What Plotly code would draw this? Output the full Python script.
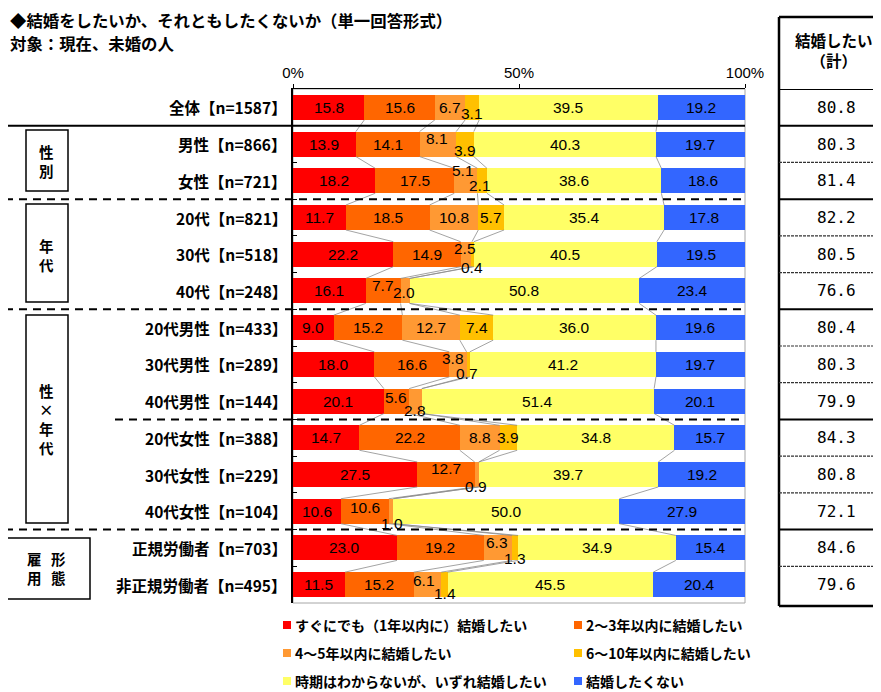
import plotly.graph_objects as go

# ---------------- data ----------------
categories = ["全体【n=1587】", "男性【n=866】", "女性【n=721】", "20代【n=821】", "30代【n=518】",
              "40代【n=248】", "20代男性【n=433】", "30代男性【n=289】", "40代男性【n=144】",
              "20代女性【n=388】", "30代女性【n=229】", "40代女性【n=104】",
              "正規労働者【n=703】", "非正規労働者【n=495】"]
series_names = ["すぐにでも（1年以内に）結婚したい", "2～3年以内に結婚したい", "4～5年以内に結婚したい",
                "6～10年以内に結婚したい", "時期はわからないが、いずれ結婚したい", "結婚したくない"]
s_1yr = [15.8, 13.9, 18.2, 11.7, 22.2, 16.1, 9.0, 18.0, 20.1, 14.7, 27.5, 10.6, 23.0, 11.5]
s_2_3yr = [15.6, 14.1, 17.5, 18.5, 14.9, 7.7, 15.2, 16.6, 5.6, 22.2, 12.7, 10.6, 19.2, 15.2]
s_4_5yr = [6.7, 8.1, 5.1, 10.8, 2.5, 2.0, 12.7, 3.8, 2.8, 8.8, 0.9, 1.0, 6.3, 6.1]
s_6_10yr = [3.1, 3.9, 2.1, 5.7, 0.4, 0.0, 7.4, 0.7, 0.0, 3.9, 0.0, 0.0, 1.3, 1.4]
s_someday = [39.5, 40.3, 38.6, 35.4, 40.5, 50.8, 36.0, 41.2, 51.4, 34.8, 39.7, 50.0, 34.9, 45.5]
s_no = [19.2, 19.7, 18.6, 17.8, 19.5, 23.4, 19.6, 19.7, 20.1, 15.7, 19.2, 27.9, 15.4, 20.4]
want_total = [80.8, 80.3, 81.4, 82.2, 80.5, 76.6, 80.4, 80.3, 79.9, 84.3, 80.8, 72.1, 84.6, 79.6]
tick_vals = [0, 50, 100]
tick_text = ["0%", "50%", "100%"]

series = [s_1yr, s_2_3yr, s_4_5yr, s_6_10yr, s_someday, s_no]

# ---------------- styles ----------------
colors = ["#FF0000", "#FF6600", "#FF9933", "#FFC000", "#FFFF66", "#3366FF"]
JP = "Noto Sans CJK JP"
NUM = "Liberation Sans"
W, H = 881, 692
OFF = 8  # page body margin
X0, X1, Y0, Y1 = 293 - OFF, 745 - OFF, 89 - OFF, 603 - OFF
BW = 0.68

# manual label nudges (pixels) for thin segments: (row, series) -> (dx, dy)
label_nudge = {
    (0, 3): (0, -6),
    (1, 2): (-1, 6), (1, 3): (0, -6),
    (2, 2): (-3, 10), (2, 3): (-2, -5),
    (4, 2): (-1, 6), (4, 3): (-1, -13),
    (5, 1): (0, 5), (5, 2): (-1, -2),
    (7, 2): (-5, 6), (7, 3): (-1, -9),
    (8, 1): (-1, 4), (8, 2): (0, -9),
    (10, 1): (0, 6), (10, 2): (-1, -12),
    (11, 1): (0, 4), (11, 2): (1, -12),
    (12, 2): (-1, 5), (12, 3): (0, -11),
    (13, 2): (-3, 4), (13, 3): (1, -9),
}


def px(x):
    """reference-screen x pixel -> paper x"""
    return (x - OFF - X0) / (X1 - X0)


def py(y):
    """reference-screen y pixel -> paper y"""
    return (Y1 - (y - OFF)) / (Y1 - Y0)


def A(**kw):
    d = dict(showarrow=False, xanchor="center", yanchor="middle", borderpad=0)
    d.update(kw)
    return d


rows = list(range(len(categories)))
fig = go.Figure()

for name, vals, col in zip(series_names, series, colors):
    fig.add_trace(go.Bar(x=vals, y=rows, orientation="h", name=name, width=BW,
                         marker=dict(color=col, line=dict(width=0)),
                         showlegend=False, hoverinfo="skip"))

# cumulative boundaries
cum = []
for i in rows:
    c, acc = [], 0.0
    for s in series:
        acc += s[i]
        c.append(acc)
    cum.append(c)

# series lines
lx, ly = [], []
for k in range(5):
    for i in rows[:-1]:
        lx += [cum[i][k], cum[i + 1][k], None]
        ly += [i + BW / 2, i + 1 - BW / 2, None]
fig.add_trace(go.Scatter(x=lx, y=ly, mode="lines", line=dict(color="#8C8C8C", width=0.8),
                         showlegend=False, hoverinfo="skip"))

ann = []
# data labels
for i in rows:
    start = 0.0
    for k, s in enumerate(series):
        v = s[i]
        if v > 0:
            dx, dy = label_nudge.get((i, k), (0, 0))
            ann.append(A(x=start + v / 2, y=i, xref="x", yref="y", text=f"{v:.1f}",
                         xshift=dx, yshift=dy,
                         font=dict(family=NUM, size=15.5, color="black")))
        start += v

# row labels
for i, c in enumerate(categories):
    ann.append(A(x=px(288), y=i, xref="paper", yref="y", text=c, xanchor="right",
                 font=dict(family=JP, size=15.5, color="black", weight="bold")))

# title
ann.append(A(x=px(9), y=py(20), xref="paper", yref="paper", xanchor="left",
             text="◆結婚をしたいか、それともしたくないか（単一回答形式）",
             font=dict(family=JP, size=16.4, color="black", weight="bold")))
ann.append(A(x=px(9), y=py(43), xref="paper", yref="paper", xanchor="left",
             text="対象：現在、未婚の人",
             font=dict(family=JP, size=16.4, color="black", weight="bold")))

shapes = []
# plot frame
shapes.append(dict(type="rect", xref="paper", yref="paper", x0=0, x1=1, y0=0, y1=1,
                   line=dict(color="#A6A6A6", width=1), layer="below"))

# separators in main area
shapes.append(dict(type="line", xref="paper", yref="y", x0=px(8), x1=1, y0=0.5, y1=0.5,
                   line=dict(color="black", width=2)))
for yv, xs in [(2.5, 5), (5.5, 5), (8.5, 115), (11.5, 5)]:
    shapes.append(dict(type="line", xref="paper", yref="y", x0=px(xs), x1=1, y0=yv, y1=yv,
                       line=dict(color="black", width=2, dash="8px,6px")))

# group boxes
group_boxes = [
    ((26, 130, 68, 191), [("性<br>別", 46, 161)]),
    ((26, 204, 68, 302), [("年<br>代", 46, 255)]),
    ((26, 315, 68, 523), [("性<br>×<br>年<br>代", 46.5, 419.5)]),
    ((5, 538, 90, 599), [("雇<br>用", 34, 567.5), ("形<br>態", 58.5, 567.5)]),
]
for (bx0, by0, bx1, by1), chars in group_boxes:
    shapes.append(dict(type="rect", xref="paper", yref="paper", x0=px(bx0), x1=px(bx1),
                       y0=py(by1), y1=py(by0), line=dict(color="black", width=1.5),
                       fillcolor="white"))
    for ch, cx, cy in chars:
        ann.append(A(x=px(cx), y=py(cy), xref="paper", yref="paper", text=ch,
                     font=dict(family=JP, size=14.5, color="black", weight="bold")))

# right table
TX0, TX1 = 779, 900
shapes.append(dict(type="line", xref="paper", yref="paper", x0=px(TX0), x1=px(TX0),
                   y0=py(606), y1=py(17), line=dict(color="black", width=2.5)))
shapes.append(dict(type="line", xref="paper", yref="paper", x0=px(TX0), x1=px(TX1),
                   y0=py(17), y1=py(17), line=dict(color="black", width=2.5)))
shapes.append(dict(type="line", xref="paper", yref="y", x0=px(TX0), x1=px(TX1),
                   y0=-0.5, y1=-0.5, line=dict(color="black", width=2)))
for b in [0.5, 2.5, 5.5, 8.5, 11.5]:
    shapes.append(dict(type="line", xref="paper", yref="y", x0=px(TX0), x1=px(TX1),
                       y0=b, y1=b, line=dict(color="black", width=2)))
shapes.append(dict(type="line", xref="paper", yref="paper", x0=px(TX0), x1=px(TX1),
                   y0=py(606), y1=py(606), line=dict(color="black", width=2.5)))
for b in [1.5, 3.5, 4.5, 6.5, 7.5, 9.5, 10.5, 12.5]:
    shapes.append(dict(type="line", xref="paper", yref="y", x0=px(TX0), x1=px(TX1),
                       y0=b, y1=b, line=dict(color="#333333", width=1.2, dash="3px,1px")))
ann.append(A(x=px(834), y=py(50), xref="paper", yref="paper", text="結婚したい<br>（計）",
             font=dict(family=JP, size=15.5, color="black", weight="bold")))
for i, t in enumerate(want_total):
    ann.append(A(x=px(836), y=i, xref="paper", yref="y", text=f"{t:.1f}",
                 font=dict(family="DejaVu Sans Mono", size=16, color="black")))

# legend (manual, two columns)
legend_pos = [(283, 625), (574, 625), (283, 653), (574, 653), (283, 681), (574, 681)]
for name, col, (lxp, lyp) in zip(series_names, colors, legend_pos):
    shapes.append(dict(type="rect", xref="paper", yref="paper", x0=px(lxp), x1=px(lxp + 8),
                       y0=py(lyp + 4), y1=py(lyp - 4), line=dict(width=0), fillcolor=col))
    ann.append(A(x=px(lxp + 11), y=py(lyp), xref="paper", yref="paper", xanchor="left",
                 text=name, font=dict(family=JP, size=14, color="black", weight="bold")))

fig.update_layout(
    width=W, height=H, barmode="stack",
    margin=dict(l=X0, r=W - X1, t=Y0, b=H - Y1, pad=0),
    paper_bgcolor="white", plot_bgcolor="white",
    shapes=shapes, annotations=ann,
    xaxis=dict(range=[0, 100], side="top", tickvals=tick_vals, ticktext=tick_text,
               ticks="outside", ticklen=4, tickcolor="black", showline=True, linecolor="black",
               linewidth=1, showgrid=False, zeroline=False,
               tickfont=dict(family=NUM, size=15, color="black"), fixedrange=True),
    yaxis=dict(range=[13.5, -0.5], tickvals=[k - 0.5 for k in range(15)], showticklabels=False,
               ticks="inside", ticklen=4, tickcolor="black", showline=True, linecolor="black",
               linewidth=1.5, showgrid=False, zeroline=False, fixedrange=True),
)

fig.write_html("out.html")
